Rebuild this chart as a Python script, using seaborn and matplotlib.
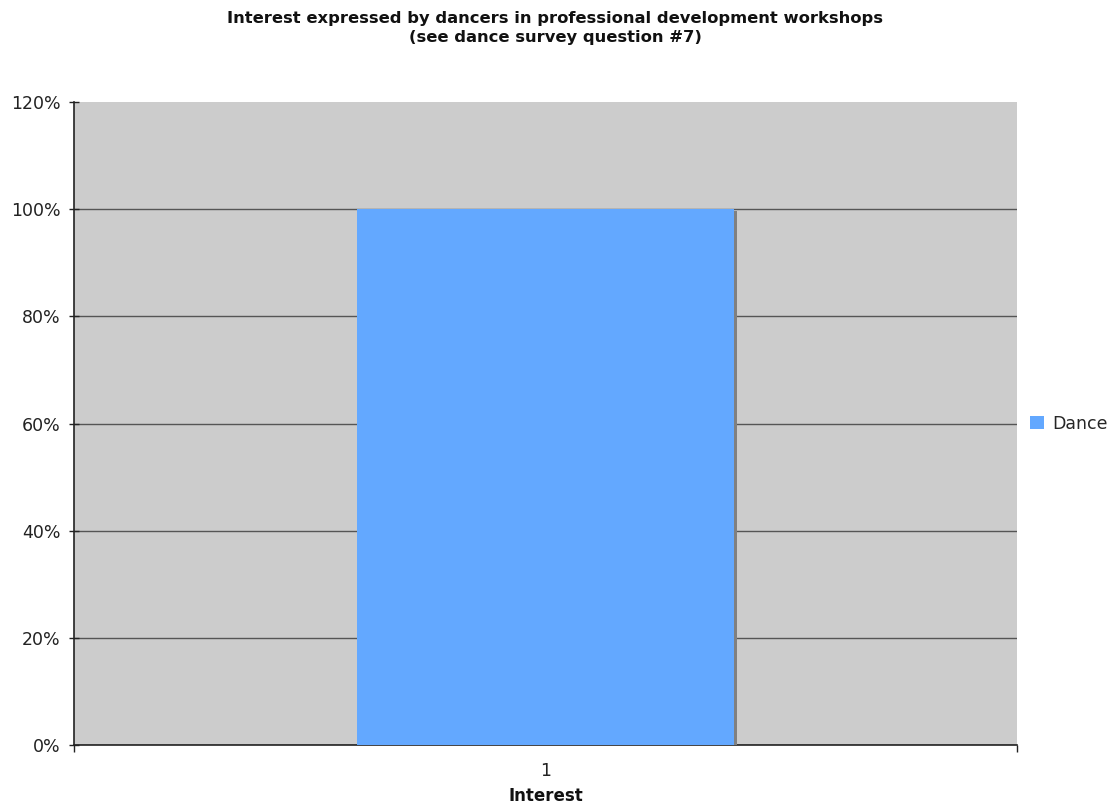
import matplotlib
matplotlib.use("Agg")
import matplotlib.pyplot as plt
import matplotlib.patheffects as pe
from matplotlib.ticker import FixedLocator
import seaborn as sns
import pandas as pd

# Survey result
categories = ["1"]
series_name = "Dance"
values = [1.0]
y_ticks = [0.0, 0.2, 0.4, 0.6, 0.8, 1.0, 1.2]
y_tick_labels = ["0%", "20%", "40%", "60%", "80%", "100%", "120%"]

sns.set_theme(style="white")
plt.rcParams["font.family"] = ["DejaVu Sans"]

df = pd.DataFrame({"category": categories, "value": values, "series": series_name})

fig = plt.figure(figsize=(11.12, 8.08), dpi=100)
ax = fig.add_axes([74 / 1112, 1 - 745 / 808, (1017 - 74) / 1112, (745 - 102) / 808])
ax.set_facecolor("#CCCCCC")

sns.barplot(data=df, x="category", y="value", hue="series", palette=["#63A8FF"],
            width=0.4, ax=ax, zorder=3, legend=True, saturation=1)

for bar in ax.patches:
    bar.set_edgecolor("none")
    bar.set_path_effects([pe.SimplePatchShadow(offset=(2.2, -1.6), shadow_rgbFace="#808080", alpha=1.0),
                          pe.Normal()])

ax.set_xlim(-0.5, 0.5)
ax.set_ylim(0, 1.2)
ax.set_yticks(y_ticks)
ax.set_yticklabels(y_tick_labels, fontsize=12.5, color="#222222")
ax.yaxis.grid(True, color="#555555", linewidth=1.0, zorder=1)
# no gridline along the top edge of the plot area
ax.yaxis.get_gridlines()[-1].set_visible(False)
ax.set_axisbelow(True)
ax.tick_params(axis="y", which="both", left=True, length=7, direction="inout", width=1, color="#222222", pad=6)
ax.tick_params(axis="x", bottom=False, labelsize=12.5, labelcolor="#222222", pad=6)
ax.xaxis.set_minor_locator(FixedLocator([-0.5, 0.5]))
ax.tick_params(axis="x", which="minor", bottom=True, length=5, width=1, color="#222222", direction="out")

for side in ["top", "right"]:
    ax.spines[side].set_visible(False)
for side in ["left", "bottom"]:
    ax.spines[side].set_color("#222222")
    ax.spines[side].set_linewidth(1.2)

ax.set_ylabel("")
ax.set_xlabel("Interest", fontsize=12, fontweight="bold", labelpad=5, color="#111111")

fig.suptitle("Interest expressed by dancers in professional development workshops\n(see dance survey question #7)",
             x=555 / 1112, y=1 - 11 / 808, va="top", fontsize=11.8, fontweight="bold", color="#111111",
             linespacing=1.3)

handles, labels = ax.get_legend_handles_labels()
for h in handles:
    h.set_path_effects([])
ax.legend(handles, labels, loc="center left", bbox_to_anchor=(1.001, 0.5), frameon=False,
          fontsize=12.5, handlelength=0.8, handleheight=0.8, handletextpad=0.45, borderaxespad=0.3)

fig.savefig("out.png", dpi=100)
